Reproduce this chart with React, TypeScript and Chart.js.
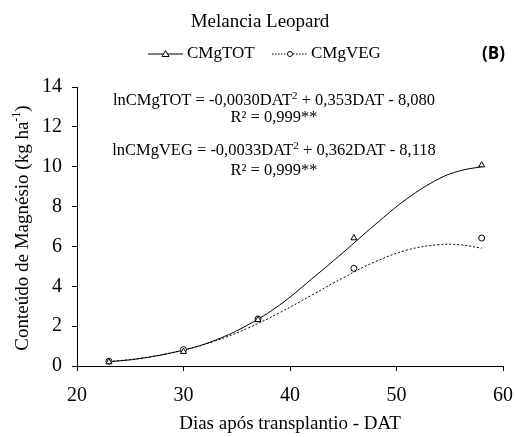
import React, { useEffect, useRef } from "react";
import { Chart, registerables } from "chart.js";

Chart.register(...registerables);

// Observed data points (DAT, kg/ha)
const dat = [23, 30, 37, 46, 58];
const cmgTot = [0.2, 0.72, 2.32, 6.42, 10.08];
const cmgVeg = [0.24, 0.82, 2.36, 4.9, 6.42];

// Fitted curves
const fitDat = [23, 26, 30, 33, 36, 39, 42, 45, 48, 51, 54, 56, 58];
const fitTot = [0.21, 0.38, 0.8, 1.3, 2.05, 3.05, 4.35, 5.7, 7.1, 8.4, 9.4, 9.8, 10.0];
const fitVeg = [0.22, 0.39, 0.8, 1.26, 1.89, 2.67, 3.54, 4.43, 5.23, 5.82, 6.09, 6.08, 5.91];

const xTicks = [20, 30, 40, 50, 60];
const yTicks = [0, 2, 4, 6, 8, 10, 12, 14];

const chartTitle = "Melancia Leopard";
const legendLabels = ["CMgTOT", "CMgVEG"];
const panelLabel = "(B)";
const eqTot = ["lnCMgTOT = -0,0030DAT", "2", " + 0,353DAT - 8,080"];
const eqVeg = ["lnCMgVEG = -0,0033DAT", "2", " + 0,362DAT - 8,118"];
const r2Tot = "R² = 0,999**";
const r2Veg = "R² = 0,999**";
const xTitle = "Dias após transplantio - DAT";
const yTitle = ["Conteúdo de Magnésio (kg ha", "-1", ")"];

const SERIF = "'Liberation Serif', 'Times New Roman', serif";

function drawSup(ctx: CanvasRenderingContext2D, parts: string[], cx: number, cy: number, size: number) {
  const main = `${size}px ${SERIF}`;
  const sup = `${Math.round(size * 0.65)}px ${SERIF}`;
  let total = 0;
  const widths: number[] = [];
  parts.forEach((p, i) => {
    ctx.font = i % 2 === 1 ? sup : main;
    const w = ctx.measureText(p).width;
    widths.push(w);
    total += w;
  });
  let x = cx - total / 2;
  ctx.textAlign = "left";
  ctx.textBaseline = "middle";
  parts.forEach((p, i) => {
    const isSup = i % 2 === 1;
    ctx.font = isSup ? sup : main;
    ctx.fillText(p, x, isSup ? cy - size * 0.32 : cy);
    x += widths[i];
  });
}

const overlayPlugin = {
  id: "overlay",
  afterDraw(chart: any) {
    const ctx: CanvasRenderingContext2D = chart.ctx;
    ctx.save();
    ctx.fillStyle = "#000";
    ctx.strokeStyle = "#000";
    // title
    ctx.font = `19px ${SERIF}`;
    ctx.textAlign = "center";
    ctx.textBaseline = "middle";
    ctx.fillText(chartTitle, 260, 22);

    // legend
    const ly = 54;
    ctx.lineWidth = 1;
    ctx.setLineDash([]);
    ctx.beginPath();
    ctx.moveTo(148, ly);
    ctx.lineTo(183, ly);
    ctx.stroke();
    // triangle
    ctx.beginPath();
    ctx.moveTo(165.5, ly - 3.5);
    ctx.lineTo(169, ly + 2.5);
    ctx.lineTo(162, ly + 2.5);
    ctx.closePath();
    ctx.fillStyle = "#fff";
    ctx.fill();
    ctx.stroke();
    ctx.fillStyle = "#000";
    ctx.font = `17px ${SERIF}`;
    ctx.textAlign = "left";
    ctx.fillText(legendLabels[0], 187, ly);

    ctx.setLineDash([1.5, 1.5]);
    ctx.beginPath();
    ctx.moveTo(272, ly);
    ctx.lineTo(307, ly);
    ctx.stroke();
    ctx.setLineDash([]);
    ctx.beginPath();
    ctx.arc(290, ly, 2.5, 0, Math.PI * 2);
    ctx.fillStyle = "#fff";
    ctx.fill();
    ctx.stroke();
    ctx.fillStyle = "#000";
    ctx.fillText(legendLabels[1], 311, ly);

    // panel label
    ctx.font = `bold 17px 'Open Sans', 'Liberation Sans', sans-serif`;
    ctx.textAlign = "left";
    ctx.fillText(panelLabel, 482, 54);

    // equations
    drawSup(ctx, eqTot, 274, 101, 16.5);
    ctx.font = `16.5px ${SERIF}`;
    ctx.textAlign = "center";
    ctx.fillText(r2Tot, 274, 118);
    drawSup(ctx, eqVeg, 274, 151, 16.5);
    ctx.font = `16.5px ${SERIF}`;
    ctx.textAlign = "center";
    ctx.fillText(r2Veg, 274, 171);

    // axis titles
    ctx.font = `19px ${SERIF}`;
    ctx.textAlign = "center";
    ctx.fillText(xTitle, 290, 424);

    ctx.translate(23, 228);
    ctx.rotate(-Math.PI / 2);
    drawSup(ctx, yTitle, 0, 0, 19);
    ctx.restore();
  },
};

export default function App() {
  const ref = useRef<HTMLCanvasElement | null>(null);
  useEffect(() => {
    if (!ref.current) return;
    const chart = new Chart(ref.current, {
      type: "line",
      data: {
        datasets: [
          {
            type: "scatter",
            label: "CMgTOT pts",
            data: dat.map((x, i) => ({ x, y: cmgTot[i] })),
            pointStyle: "triangle",
            pointRadius: 3.5,
            backgroundColor: "#fff",
            borderColor: "#000",
            borderWidth: 1,
            order: 0,
          },
          {
            type: "scatter",
            label: "CMgVEG pts",
            data: dat.map((x, i) => ({ x, y: cmgVeg[i] })),
            pointStyle: "circle",
            pointRadius: 3,
            backgroundColor: "#fff",
            borderColor: "#000",
            borderWidth: 1,
            order: 0,
          },
          {
            type: "line",
            label: "CMgTOT",
            data: fitDat.map((x, i) => ({ x, y: fitTot[i] })),
            borderColor: "#000",
            borderWidth: 1,
            pointRadius: 0,
            tension: 0.4,
            fill: false,
            order: 1,
          },
          {
            type: "line",
            label: "CMgVEG",
            data: fitDat.map((x, i) => ({ x, y: fitVeg[i] })),
            borderColor: "#000",
            borderWidth: 1,
            borderDash: [2, 2],
            pointRadius: 0,
            tension: 0.4,
            fill: false,
            order: 1,
          },
        ],
      },
      options: {
        responsive: false,
        animation: false,
        devicePixelRatio: 1,
        layout: { padding: { top: 87, right: 12, left: 0, bottom: 0 } },
        plugins: {
          legend: { display: false },
          title: { display: false },
          tooltip: { enabled: false },
        },
        scales: {
          x: {
            type: "linear",
            min: 20,
            max: 60,
            afterBuildTicks: (s: any) => {
              s.ticks = xTicks.map((v) => ({ value: v }));
            },
            afterFit: (s: any) => {
              s.height = 71;
              s.paddingLeft = 0;
              s.paddingRight = 0;
            },
            grid: { display: true, drawOnChartArea: false, drawTicks: true, tickLength: 5, color: "#000" },
            border: { display: true, color: "#000", width: 1 },
            ticks: { color: "#000", font: { family: SERIF, size: 20 }, padding: 13, maxRotation: 0 },
          },
          y: {
            type: "linear",
            min: 0,
            max: 14,
            afterBuildTicks: (s: any) => {
              s.ticks = yTicks.map((v) => ({ value: v }));
            },
            afterFit: (s: any) => {
              s.width = 77;
              s.paddingTop = 0;
              s.paddingBottom = 0;
            },
            grid: { display: true, drawOnChartArea: false, drawTicks: true, tickLength: 5, color: "#000" },
            border: { display: true, color: "#000", width: 1 },
            ticks: { color: "#000", font: { family: SERIF, size: 20 }, padding: 10 },
          },
        },
      },
      plugins: [overlayPlugin],
    });
    return () => chart.destroy();
  }, []);
  return (
    <div style={{ position: "fixed", left: 0, top: 0, width: 515, height: 437, background: "#fff" }}>
      <canvas ref={ref} width={515} height={437} style={{ width: 515, height: 437 }} />
    </div>
  );
}
